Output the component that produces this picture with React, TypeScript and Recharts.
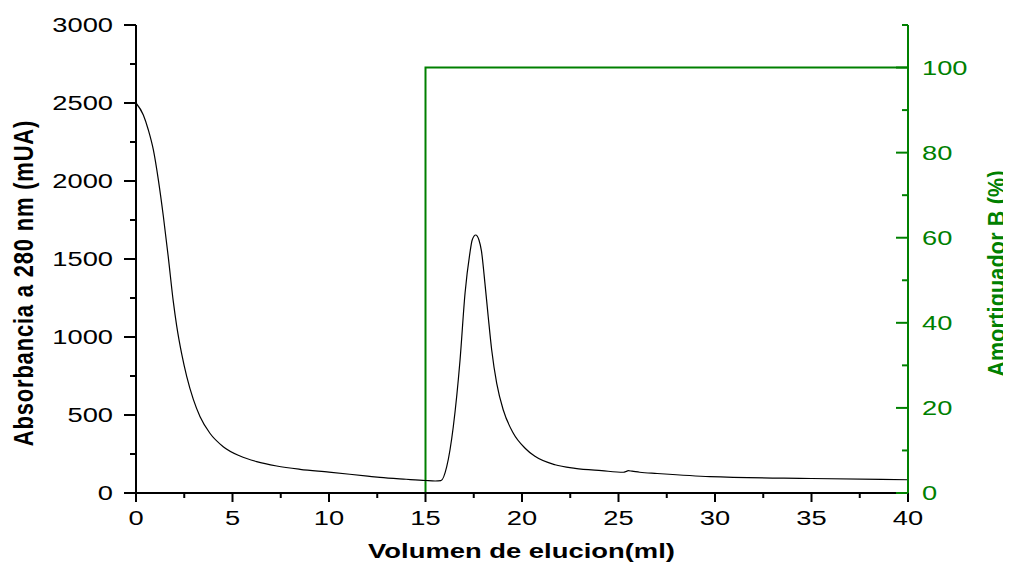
import { LineChart, Line, XAxis, YAxis } from 'recharts';

// elution volume (ml) and absorbance at 280 nm (mUA)
const volumen = [0, 0.38, 0.64, 0.9, 1.16, 1.42, 1.67, 1.93, 2.11, 2.37, 2.63, 2.97, 3.32, 3.83, 4.52, 5.39, 6.25, 7.29, 8.5, 10, 12, 12.64, 14, 15, 15.5, 15.8, 16.1, 16.44, 16.79, 17.05, 17.3, 17.42, 17.6, 17.77, 17.9, 18.08, 18.25, 18.43, 18.69, 19.03, 19.55, 20.16, 20.67, 21.71, 22.75, 24.13, 25.25, 25.4, 25.5, 25.7, 26.1, 27, 29.74, 35, 40];
const absorbancia = [2500, 2423, 2327, 2199, 2006, 1771, 1515, 1230, 1070, 890, 746, 600, 489, 383, 297, 237, 201, 173, 152, 134, 108, 100, 88, 80, 77, 79, 169, 425, 853, 1282, 1538, 1622, 1654, 1622, 1550, 1344, 1130, 917, 703, 532, 383, 287, 235, 181, 158, 143, 133, 138, 143, 140, 133, 125, 105, 93, 85];

// buffer B gradient (%)
const volumenB = [0, 15, 40];
const bufferB = [0, 100, 100];

const xTicks = [0, 2.5, 5, 7.5, 10, 12.5, 15, 17.5, 20, 22.5, 25, 27.5, 30, 32.5, 35, 37.5, 40];
const leftTicks = [0, 250, 500, 750, 1000, 1250, 1500, 1750, 2000, 2250, 2500, 2750, 3000];
const rightTicks = [0, 10, 20, 30, 40, 50, 60, 70, 80, 90, 100, 110];

const absData = volumen.map((x, i) => ({ x, abs: absorbancia[i] }));
const bData = volumenB.map((x, i) => ({ x, b: bufferB[i] }));

const GREEN = '#008000';
const FONT = '"Liberation Sans", Arial, sans-serif';

const XTick = ({ x, y, payload }: any) => {
  const major = payload.value % 5 === 0;
  return (
    <g>
      <line x1={x} x2={x} y1={y} y2={y + (major ? 9 : 5)} stroke="#000" strokeWidth={2} />
      {major && (
        <text transform={`translate(${x},${y + 32}) scale(1.4,1)`} textAnchor="middle" fontSize={19.5} fontFamily={FONT} fill="#000">
          {payload.value}
        </text>
      )}
    </g>
  );
};

const LeftTick = ({ x, y, payload }: any) => {
  const major = payload.value % 500 === 0;
  return (
    <g>
      <line x1={x - (major ? 12 : 6)} x2={x} y1={y} y2={y} stroke="#000" strokeWidth={2} />
      {major && (
        <text transform={`translate(${x - 23},${y + 7}) scale(1.4,1)`} textAnchor="end" fontSize={19.5} fontFamily={FONT} fill="#000">
          {payload.value}
        </text>
      )}
    </g>
  );
};

const RightTick = ({ x, y, payload }: any) => {
  const major = payload.value % 20 === 0;
  return (
    <g>
      <line x1={x - (major ? 12 : 6)} x2={x} y1={y} y2={y} stroke={GREEN} strokeWidth={2} />
      {major && (
        <text transform={`translate(${x + 14},${y + 7}) scale(1.4,1)`} textAnchor="start" fontSize={19.5} fontFamily={FONT} fill={GREEN}>
          {payload.value}
        </text>
      )}
    </g>
  );
};

export default function App() {
  return (
    <LineChart width={1003} height={556} margin={{ top: 17, right: 0, bottom: 0, left: 0 }}>
      <XAxis
        dataKey="x"
        type="number"
        domain={[0, 40]}
        ticks={xTicks}
        interval={0}
        allowDuplicatedCategory={false}
        height={71}
        tickLine={false}
        tickSize={0}
        tickMargin={0}
        axisLine={{ stroke: '#000', strokeWidth: 2 }}
        tick={<XTick />}
        label={{
          content: () => (
            <text transform="translate(513.5,550) scale(1.37,1)" textAnchor="middle" fontSize={20} fontWeight="bold" fontFamily={FONT} fill="#000">
              Volumen de elucion(ml)
            </text>
          ),
        }}
      />
      <YAxis
        yAxisId="left"
        type="number"
        domain={[0, 3000]}
        ticks={leftTicks}
        interval={0}
        width={128}
        tickLine={false}
        tickSize={0}
        tickMargin={0}
        axisLine={{ stroke: '#000', strokeWidth: 2 }}
        tick={<LeftTick />}
        label={{
          content: () => (
            <text transform="translate(25,275) scale(1.25,1) rotate(-90)" textAnchor="middle" fontSize={22} fontWeight="bold" letterSpacing={0.8} fontFamily={FONT} fill="#000">
              Absorbancia a 280 nm (mUA)
            </text>
          ),
        }}
      />
      <YAxis
        yAxisId="right"
        orientation="right"
        type="number"
        domain={[0, 110]}
        ticks={rightTicks}
        interval={0}
        width={103}
        tickLine={false}
        tickSize={0}
        tickMargin={0}
        axisLine={{ stroke: GREEN, strokeWidth: 2 }}
        tick={<RightTick />}
        label={{
          content: () => (
            <text transform="translate(997,265.5) scale(1.15,1) rotate(-90)" textAnchor="middle" fontSize={21.5} fontWeight="bold" letterSpacing={0.2} fontFamily={FONT} fill={GREEN}>
              Amortiguador B (%)
            </text>
          ),
        }}
      />
      <Line
        yAxisId="right"
        data={bData}
        dataKey="b"
        type="stepAfter"
        stroke={GREEN}
        strokeWidth={2}
        dot={false}
        activeDot={false}
        isAnimationActive={false}
      />
      <Line
        yAxisId="left"
        data={absData}
        dataKey="abs"
        type="monotone"
        stroke="#000"
        strokeWidth={1.2}
        dot={false}
        activeDot={false}
        isAnimationActive={false}
      />
    </LineChart>
  );
}
